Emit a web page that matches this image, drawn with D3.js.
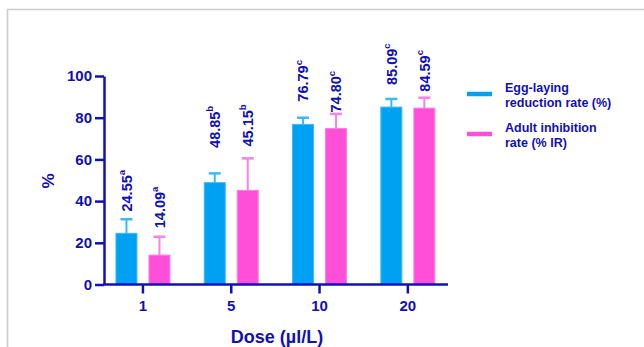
<!DOCTYPE html>
<html>
<head>
<meta charset="utf-8">
<script src="https://cdn.jsdelivr.net/npm/d3@7"></script>
<style>
  html, body { margin: 0; padding: 0; background: #fff; }
  svg { display: block; font-family: "Liberation Sans", Arial, sans-serif; font-weight: bold; }
</style>
</head>
<body>
<svg id="chart" width="644" height="347"></svg>
<script>
// Doses (µl/L) tested
const doses = ["1", "5", "10", "20"];

// Egg-laying reduction rate (%) — mean and SD
const eggMean = [24.55, 48.85, 76.79, 85.09];
const eggSD   = [6.75, 4.45, 3.2, 3.9];
const eggSig  = ["a", "b", "c", "c"];

// Adult inhibition rate (% IR) — mean and SD
const adultMean = [14.09, 45.15, 74.80, 84.59];
const adultSD   = [8.8, 15.35, 7.0, 5.0];
const adultSig  = ["a", "b", "c", "c"];

// Where each value label starts, in % units
const eggLabelAt   = [35.0, 65.5, 87.7, 95.7];
const adultLabelAt = [27.0, 66.2, 82.5, 92.5];

const yTicks = [0, 20, 40, 60, 80, 100];

const seriesNames = ["Egg-laying\nreduction rate (%)", "Adult inhibition\nrate (% IR)"];

const INK = "#1010b8";
const BLUE = "#00a1f2", BLUE_EDGE = "#3cbaf7";
const PINK = "#ff4fd8", PINK_EDGE = "#ff7fe3";

const svg = d3.select("#chart");

// light frame around the figure
svg.append("path")
  .attr("d", "M7.5,347 V9.5 H644")
  .attr("fill", "none").attr("stroke", "#cccccc").attr("stroke-width", 1.6);

const y = d3.scaleLinear().domain([0, 100]).range([284.5, 76]);
const x = d3.scaleBand().domain(doses).range([98.8, 452]);
const sub = d3.scaleBand().domain([0, 1]).range([-27.5, 27.5]).paddingInner(1 / 3).paddingOuter(0);

const series = [
  { mean: eggMean, sd: eggSD, sig: eggSig, at: eggLabelAt, fill: BLUE, edge: BLUE_EDGE },
  { mean: adultMean, sd: adultSD, sig: adultSig, at: adultLabelAt, fill: PINK, edge: PINK_EDGE }
];

const bw = sub.bandwidth();
const cx = (d, si) => x(d) + x.bandwidth() / 2 + sub(si) + bw / 2;

series.forEach((s, si) => {
  const g = svg.append("g");
  const rows = doses.map((d, i) => ({ d, v: s.mean[i], sd: s.sd[i], sig: s.sig[i], at: s.at[i] }));

  // error bars (upper)
  g.selectAll(".stem").data(rows).join("line")
    .attr("x1", r => cx(r.d, si)).attr("x2", r => cx(r.d, si))
    .attr("y1", r => y(r.v)).attr("y2", r => y(r.v + r.sd))
    .attr("stroke", s.edge).attr("stroke-width", 2);
  g.selectAll(".cap").data(rows).join("line")
    .attr("x1", r => cx(r.d, si) - 6).attr("x2", r => cx(r.d, si) + 6)
    .attr("y1", r => y(r.v + r.sd)).attr("y2", r => y(r.v + r.sd))
    .attr("stroke", s.edge).attr("stroke-width", 2.5);

  // bars
  g.selectAll("rect").data(rows).join("rect")
    .attr("x", r => cx(r.d, si) - bw / 2 + 0.5)
    .attr("width", bw - 1)
    .attr("y", r => y(r.v))
    .attr("height", r => y(0) - y(r.v))
    .attr("fill", s.fill).attr("stroke", s.edge).attr("stroke-width", 1);

  // rotated value labels with significance letters
  const lab = g.selectAll(".val").data(rows).join("text")
    .attr("transform", r => `translate(${cx(r.d, si)},${y(r.at)}) rotate(-90)`)
    .attr("dy", "0.36em")
    .attr("font-size", 14.5).attr("fill", INK);
  lab.append("tspan").text(r => r.v.toFixed(2));
  lab.append("tspan").attr("font-size", 9.5).attr("dy", "-0.7em").text(r => r.sig);
});

// y axis
const yAxis = svg.append("g").attr("transform", "translate(104,0)")
  .call(d3.axisLeft(y).tickValues(yTicks).tickSize(9).tickPadding(3).tickSizeOuter(0));
yAxis.select(".domain").attr("stroke", INK).attr("stroke-width", 2.5);
yAxis.selectAll(".tick line").attr("stroke", INK).attr("stroke-width", 2.5);
yAxis.selectAll(".tick text").attr("fill", INK).attr("font-size", 15)
  .attr("font-family", "Liberation Sans, Arial, sans-serif").attr("font-weight", "bold");

// x axis
const xAxis = svg.append("g").attr("transform", `translate(0,${y(0)})`)
  .call(d3.axisBottom(x).tickSize(9).tickPadding(7).tickSizeOuter(0));
xAxis.select(".domain").remove();
xAxis.append("line").attr("x1", 103).attr("x2", 448).attr("stroke", INK).attr("stroke-width", 2.5);
xAxis.selectAll(".tick line").attr("stroke", INK).attr("stroke-width", 2.5);
xAxis.selectAll(".tick text").attr("fill", INK).attr("font-size", 15)
  .attr("font-family", "Liberation Sans, Arial, sans-serif").attr("font-weight", "bold");

// axis titles
svg.append("text").attr("x", 277).attr("y", 343).attr("text-anchor", "middle")
  .attr("font-size", 18).attr("fill", INK).text("Dose (µl/L)");
svg.append("text").attr("transform", "translate(54,181) rotate(-90)").attr("text-anchor", "middle")
  .attr("font-size", 17).attr("fill", INK).text("%");

// legend
const legend = svg.append("g");
seriesNames.forEach((name, i) => {
  const gy = 94 + i * 40;
  legend.append("line").attr("x1", 467).attr("x2", 492).attr("y1", gy).attr("y2", gy)
    .attr("stroke", series[i].fill).attr("stroke-width", 4.5);
  const t = legend.append("text").attr("x", 505).attr("y", gy - 2)
    .attr("font-size", 12.5).attr("fill", INK);
  name.split("\n").forEach((line, k) => {
    t.append("tspan").attr("x", 505).attr("dy", k === 0 ? 0 : 14.5).text(line);
  });
});
</script>
</body>
</html>
